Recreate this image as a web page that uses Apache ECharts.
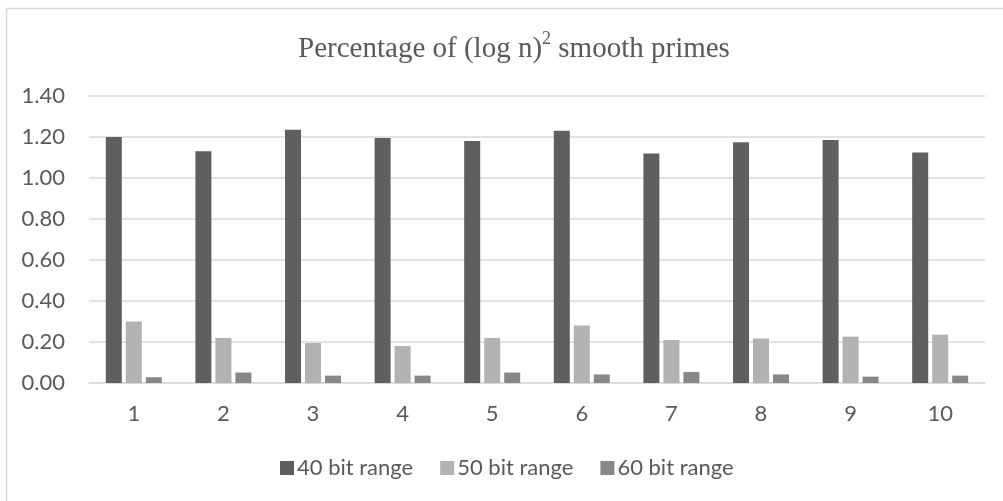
<!DOCTYPE html>
<html>
<head>
<meta charset="utf-8">
<script src="https://cdn.jsdelivr.net/npm/echarts@6/dist/echarts.min.js"></script>
<style>
html,body{margin:0;padding:0;background:#fff;}
#chart{width:1003px;height:501px;}
</style>
</head>
<body>
<div id="chart"></div>
<script>
const categories = ['1','2','3','4','5','6','7','8','9','10'];
const seriesNames = ['40 bit range','50 bit range','60 bit range'];
const bits40 = [1.20, 1.13, 1.235, 1.195, 1.18, 1.23, 1.12, 1.175, 1.185, 1.125];
const bits50 = [0.30, 0.22, 0.195, 0.18, 0.22, 0.28, 0.21, 0.217, 0.226, 0.236];
const bits60 = [0.028, 0.051, 0.036, 0.036, 0.051, 0.042, 0.054, 0.042, 0.031, 0.036];
const yTicks = {min: 0, max: 1.4, interval: 0.2};

const colors = ['#5f5f5f', '#b2b2b2', '#878787'];
const labelFont = 'Lato, "Open Sans", sans-serif';

const chart = echarts.init(document.getElementById('chart'));
chart.setOption({
  animation: false,
  backgroundColor: '#fff',
  color: colors,
  graphic: [{
    type: 'rect',
    shape: {x: 6.5, y: 8.5, width: 1010, height: 510},
    style: {fill: 'none', stroke: '#d9d9d9', lineWidth: 1.5},
    silent: true
  }],
  title: {
    text: '{a|Percentage of (log n)}{s|2}{a| smooth primes}',
    left: 509,
    textAlign: 'center',
    top: 25,
    textStyle: {
      fontWeight: 'normal',
      rich: {
        a: {fontFamily: '"Liberation Serif", serif', fontSize: 29, fontWeight: 'normal', color: '#595959', verticalAlign: 'bottom', lineHeight: 34},
        s: {fontFamily: '"Liberation Serif", serif', fontSize: 18, fontWeight: 'normal', color: '#595959', verticalAlign: 'top', lineHeight: 34}
      }
    }
  },
  legend: {
    data: seriesNames,
    left: 275,
    top: 452,
    itemWidth: 14,
    itemHeight: 14,
    itemGap: 27,
    icon: 'rect',
    textStyle: {fontFamily: labelFont, fontSize: 22, color: '#595959', padding: [0, 0, 0, -2]}
  },
  grid: {left: 89, right: 18, top: 96, bottom: 118, containLabel: false},
  xAxis: {
    type: 'category',
    data: categories,
    axisLine: {lineStyle: {color: '#d9d9d9', width: 1.5}},
    axisTick: {show: false},
    axisLabel: {fontFamily: labelFont, fontSize: 22, color: '#595959', margin: 20}
  },
  yAxis: {
    type: 'value',
    min: yTicks.min,
    max: yTicks.max,
    interval: yTicks.interval,
    axisLine: {show: false},
    axisTick: {show: false},
    splitLine: {lineStyle: {color: '#d9d9d9', width: 1.5}},
    axisLabel: {fontFamily: labelFont, fontSize: 22, color: '#595959', margin: 24,
      formatter: v => v.toFixed(2)}
  },
  series: [
    {name: seriesNames[0], type: 'bar', data: bits40, barWidth: 16, barGap: '25%'},
    {name: seriesNames[1], type: 'bar', data: bits50, barWidth: 16, barGap: '25%'},
    {name: seriesNames[2], type: 'bar', data: bits60, barWidth: 16, barGap: '25%'}
  ]
});
</script>
</body>
</html>
